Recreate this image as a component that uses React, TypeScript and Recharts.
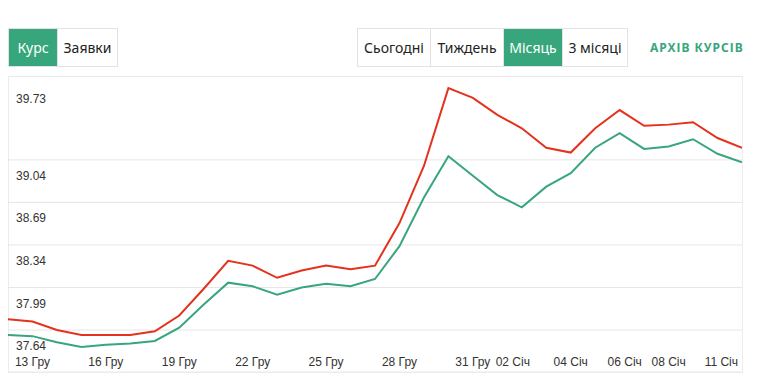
import { LineChart, Line, XAxis, YAxis, CartesianGrid } from "recharts";

// one point per day, 12 Dec .. 11 Jan
const days = [
  "12 Гру", "13 Гру", "14 Гру", "15 Гру", "16 Гру", "17 Гру", "18 Гру", "19 Гру",
  "20 Гру", "21 Гру", "22 Гру", "23 Гру", "24 Гру", "25 Гру", "26 Гру", "27 Гру",
  "28 Гру", "29 Гру", "30 Гру", "31 Гру", "01 Січ", "02 Січ", "03 Січ", "04 Січ",
  "05 Січ", "06 Січ", "07 Січ", "08 Січ", "09 Січ", "10 Січ", "11 Січ",
];

const sellRates = [
  37.73, 37.71, 37.64, 37.6, 37.6, 37.6, 37.63, 37.76, 37.98, 38.21, 38.17,
  38.07, 38.13, 38.17, 38.14, 38.17, 38.52, 38.99, 39.63, 39.55, 39.41, 39.3,
  39.14, 39.1, 39.3, 39.45, 39.32, 39.33, 39.35, 39.22, 39.14,
];

const buyRates = [
  37.6, 37.59, 37.54, 37.5, 37.52, 37.53, 37.55, 37.66, 37.85, 38.03, 38.0,
  37.93, 37.99, 38.02, 38.0, 38.06, 38.33, 38.73, 39.07, 38.91, 38.75, 38.65,
  38.82, 38.93, 39.14, 39.26, 39.13, 39.15, 39.21, 39.09, 39.02,
];

const yTicks = [37.64, 37.99, 38.34, 38.69, 39.04, 39.73];
const xTicks = [
  "13 Гру", "16 Гру", "19 Гру", "22 Гру", "25 Гру", "28 Гру", "31 Гру",
  "02 Січ", "04 Січ", "06 Січ", "08 Січ", "11 Січ",
];

const leftTabs = ["Курс", "Заявки"];
const rangeTabs = ["Сьогодні", "Тиждень", "Місяць", "3 місяці"];

const GREEN = "#38a67d";
const RED = "#e4321c";
const GRID = "#e6e6e6";
const AXIS_FONT = "'Liberation Sans', Arial, sans-serif";

const rows = days.map((d, i) => ({ day: d, sell: sellRates[i], buy: buyRates[i] }));

function YTick({ x, y, payload }: any) {
  const top = payload.value === yTicks[yTicks.length - 1];
  return (
    <text x={x + 8} y={y + (top ? 18 : 20)} fill="#333" fontSize={12} fontFamily={AXIS_FONT} textAnchor="start">
      {Number(payload.value).toFixed(2)}
    </text>
  );
}

const xShift: Record<string, number> = { "02 Січ": -9, "06 Січ": 5 };

function XTick({ x, y, payload }: any) {
  const last = payload.value === xTicks[xTicks.length - 1];
  return (
    <text
      x={x + (last ? -4 : xShift[payload.value] || 0)}
      y={y - 6}
      fill="#333"
      fontSize={12}
      fontFamily={AXIS_FONT}
      textAnchor={last ? "end" : "middle"}
    >
      {payload.value}
    </text>
  );
}

const tabBox: React.CSSProperties = {
  position: "absolute",
  top: 28,
  height: 39,
  display: "flex",
  boxSizing: "border-box",
  border: "1px solid #e3e3e3",
  fontSize: 14,
  color: "#222",
};

function Tab({ label, width, active, last }: { label: string; width: number; active?: boolean; last?: boolean }) {
  return (
    <div
      style={{
        width,
        lineHeight: "37px",
        textAlign: "center",
        background: active ? GREEN : "#fff",
        color: active ? "#fff" : "#222",
        borderRight: last ? "none" : "1px solid #e3e3e3",
        boxSizing: "border-box",
      }}
    >
      {label}
    </div>
  );
}

export default function App() {
  const rangeWidths = [73, 73, 59, 64];
  return (
    <div style={{ position: "relative", width: 760, height: 373, fontFamily: "'Noto Sans', sans-serif", background: "#fff" }}>
      <style>{"body{margin:0;overflow:hidden}"}</style>

      <div style={{ ...tabBox, left: 8 }}>
        <Tab label={leftTabs[0]} width={49} active />
        <Tab label={leftTabs[1]} width={59} last />
      </div>

      <div style={{ ...tabBox, left: 357 }}>
        {rangeTabs.map((t, i) => (
          <Tab key={t} label={t} width={rangeWidths[i]} active={i === 2} last={i === rangeTabs.length - 1} />
        ))}
      </div>

      <div
        style={{
          position: "absolute",
          left: 650,
          top: 39,
          fontSize: 12,
          fontWeight: 700,
          letterSpacing: 1,
          color: GREEN,
          lineHeight: "18px",
        }}
      >
        АРХІВ КУРСІВ
      </div>

      <div
        style={{
          position: "absolute",
          left: 8,
          top: 76,
          width: 735,
          height: 297,
          boxSizing: "border-box",
          border: "1px solid #ececec",
        }}
      />

      <div style={{ position: "absolute", left: 8, top: 76 }}>
        <LineChart width={734} height={296} data={rows} margin={{ top: 0, right: 0, bottom: -1, left: -1 }}>
          <CartesianGrid vertical={false} stroke={GRID} strokeWidth={1} />
          <XAxis
            dataKey="day"
            ticks={xTicks}
            interval={0}
            height={1}
            axisLine={false}
            tickLine={false}
            tickSize={0}
            tickMargin={0}
            tick={XTick}
          />
          <YAxis
            type="number"
            domain={[37.295, 39.73]}
            ticks={yTicks}
            width={1}
            axisLine={false}
            tickLine={false}
            tickSize={0}
            tickMargin={0}
            tick={YTick}
          />
          <Line type="linear" dataKey="sell" stroke={RED} strokeWidth={2} dot={false} isAnimationActive={false} />
          <Line type="linear" dataKey="buy" stroke={GREEN} strokeWidth={2} dot={false} isAnimationActive={false} />
        </LineChart>
      </div>
    </div>
  );
}
